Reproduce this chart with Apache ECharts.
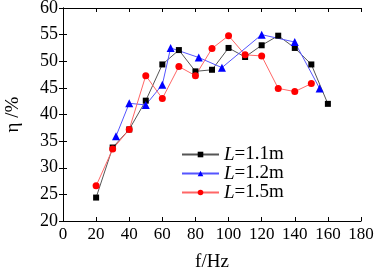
<!DOCTYPE html>
<html>
<head>
<meta charset="utf-8">
<script src="https://cdn.jsdelivr.net/npm/echarts@6/dist/echarts.min.js"></script>
<style>
  html, body { margin: 0; padding: 0; background: #fff; }
  #chart { width: 376px; height: 269px; }
</style>
</head>
<body>
<div id="chart"></div>
<script>
// 频率 f (Hz) 与效率 η (%)
const seriesNames = ['1.1m', '1.2m', '1.5m'];
const fL11 = [20, 30, 40, 50, 60, 70, 80, 90, 100, 110, 120, 130, 140, 150, 160];
const etaL11 = [24.4, 33.8, 37.2, 42.6, 49.4, 52.1, 48.1, 48.4, 52.5, 50.8, 53.0, 54.8, 52.5, 49.4, 42.0];
const fL12 = [32, 40, 50, 60, 65, 82, 96, 120, 140, 155];
const etaL12 = [35.9, 42.1, 41.8, 45.6, 52.5, 50.7, 48.8, 55.0, 53.6, 44.9];
const fL15 = [20, 30, 40, 50, 60, 70, 80, 90, 100, 110, 120, 130, 140, 150];
const etaL15 = [26.6, 33.5, 37.2, 47.3, 43.0, 49.0, 47.3, 52.4, 54.8, 51.2, 51.0, 44.9, 44.3, 45.8];

const pairs = (xs, ys) => xs.map((x, i) => [x, ys[i]]);

const font = 'Liberation Serif';
const chart = echarts.init(document.getElementById('chart'));

const axisCommon = {
  axisLine: { show: true, lineStyle: { color: '#000', width: 1 } },
  axisTick: { show: true, inside: true, length: 4, lineStyle: { color: '#000' } },
  splitLine: { show: false }
};

chart.setOption({
  animation: false,
  grid: { left: 63, right: 15, top: 8, bottom: 48, containLabel: false, outerBoundsMode: 'none' },
  legend: {
    orient: 'vertical',
    left: 176,
    top: 140,
    itemWidth: 37,
    itemHeight: 7,
    itemGap: 0,
    data: seriesNames.map(n => 'L=' + n),
    formatter: name => '{i|L}{t|' + name.slice(1) + '}',
    textStyle: {
      rich: {
        i: { fontFamily: font, fontStyle: 'italic', fontSize: 19, color: '#000', lineHeight: 20 },
        t: { fontFamily: font, fontSize: 19, color: '#000', lineHeight: 20 }
      }
    }
  },
  xAxis: [
    Object.assign({
      type: 'value', min: 0, max: 180, interval: 20,
      name: 'f/Hz', nameLocation: 'middle', nameGap: 32,
      nameTextStyle: { fontFamily: font, fontSize: 19, color: '#000' },
      axisLabel: { fontFamily: font, fontSize: 17, color: '#000', margin: 5 }
    }, axisCommon),
    Object.assign({
      type: 'value', min: 0, max: 180, interval: 20, position: 'top',
      axisLabel: { show: false }
    }, axisCommon)
  ],
  yAxis: [
    Object.assign({
      type: 'value', min: 20, max: 60, interval: 5,
      name: 'η /%', nameLocation: 'middle', nameGap: 40, nameRotate: 90,
      nameTextStyle: { fontFamily: font, fontSize: 19, color: '#000' },
      axisLabel: { fontFamily: font, fontSize: 18, color: '#000', margin: 5 }
    }, axisCommon),
    Object.assign({
      type: 'value', min: 20, max: 60, interval: 5, position: 'right',
      axisLabel: { show: false }
    }, axisCommon)
  ],
  series: [
    {
      name: 'L=1.1m', type: 'line', data: pairs(fL11, etaL11),
      symbol: 'rect', symbolSize: 6,
      lineStyle: { color: '#555', width: 1 },
      itemStyle: { color: '#000' }
    },
    {
      name: 'L=1.2m', type: 'line', data: pairs(fL12, etaL12),
      symbol: 'triangle', symbolSize: 8,
      lineStyle: { color: '#5555ff', width: 1 },
      itemStyle: { color: '#0000ff' }
    },
    {
      name: 'L=1.5m', type: 'line', data: pairs(fL15, etaL15),
      symbol: 'circle', symbolSize: 7,
      lineStyle: { color: '#ff6666', width: 1 },
      itemStyle: { color: '#ff0000' }
    }
  ]
});
</script>
</body>
</html>
